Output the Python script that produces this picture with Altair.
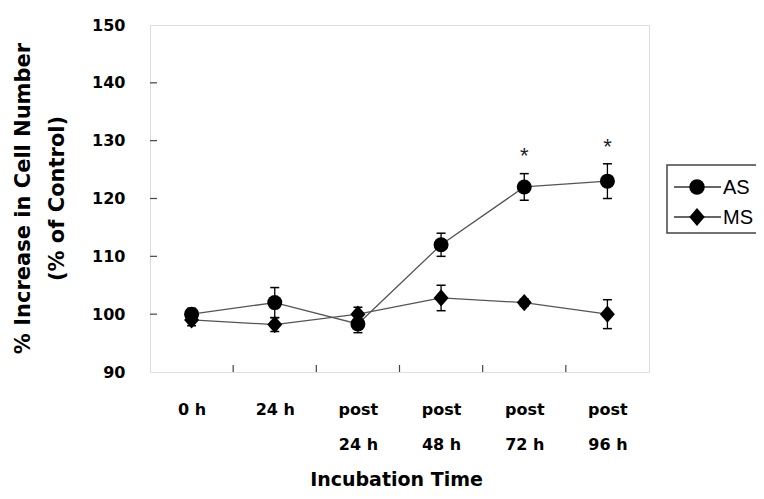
import json
import altair as alt
import pandas as pd

# ---- data ----
x_pos = [0, 1, 2, 3, 4, 5]
x_labels = ["0 h", "24 h", "post|24 h", "post|48 h", "post|72 h", "post|96 h"]
series_names = ["AS", "MS"]
as_mean = [100.0, 102.0, 98.3, 112.0, 122.0, 123.0]
as_err = [1.0, 2.6, 1.5, 2.0, 2.3, 3.0]
ms_mean = [99.0, 98.2, 100.0, 102.8, 102.0, 100.0]
ms_err = [1.0, 1.2, 1.2, 2.2, 0.6, 2.5]
star_x = [4, 5]
star_y = [128.6, 130.2]
y_tick_values = [90, 100, 110, 120, 130, 140, 150]
inner_y_ticks = [100, 110, 120, 130, 140]
inner_x_ticks = [0.5, 1.5, 2.5, 3.5, 4.5]

rows = []
for name, means, errs in [("AS", as_mean, as_err), ("MS", ms_mean, ms_err)]:
    for xi, m, e in zip(x_pos, means, errs):
        rows.append({"series": name, "x": xi, "mean": m, "lo": m - e, "hi": m + e})
df = pd.DataFrame(rows)
stars = pd.DataFrame({"x": star_x, "y": star_y, "t": ["*"] * len(star_x)})
yt = pd.DataFrame({"v": inner_y_ticks})
xt = pd.DataFrame({"v": inner_x_ticks})

W, H = 499, 347
BOLD = "DejaVu Sans"

xscale = alt.Scale(domain=[-0.5, 5.5], nice=False, zero=False)
yscale = alt.Scale(domain=[90, 150], nice=False, zero=False)

label_expr = "split(" + json.dumps(x_labels).replace('"', "'") + "[datum.value], '|')"

x_axis = alt.Axis(
    values=x_pos, labelExpr=label_expr, ticks=False, tickSize=0, domain=False, grid=False,
    labelFont=BOLD, labelFontWeight="bold", labelFontSize=16, labelColor="black",
    labelPadding=29, labelBaseline="top", labelLineHeight=35, labelAngle=0,
    title="Incubation Time", titleFont=BOLD, titleFontWeight="bold", titleFontSize=19,
    titleColor="black", titleX=246, titleY=107, titleBaseline="middle", titleAlign="center",
)
y_axis = alt.Axis(
    values=y_tick_values, ticks=False, tickSize=0, domain=False, grid=False,
    labelFont=BOLD, labelFontWeight="bold", labelFontSize=16, labelColor="black",
    labelPadding=25,
    title=["% Increase in Cell Number", "(% of Control)"], titleFont=BOLD,
    titleFontWeight="bold", titleFontSize=21, titleColor="black", titleLineHeight=34,
    titleX=-127, titleY=173, titleAngle=270, titleBaseline="middle", titleAlign="center",
)

base = alt.Chart(df)
X = alt.X("x:Q", scale=xscale, axis=x_axis)
Y = alt.Y("mean:Q", scale=yscale, axis=y_axis)

lines = base.mark_line(color="#555555", strokeWidth=1.3).encode(x=X, y=Y, detail="series:N")
bars = base.mark_rule(color="black", strokeWidth=1.3).encode(
    x="x:Q", y=alt.Y("lo:Q", scale=yscale), y2="hi:Q")
cap_lo = base.mark_tick(color="black", orient="horizontal", size=9, thickness=1.5, opacity=1).encode(
    x="x:Q", y=alt.Y("lo:Q", scale=yscale))
cap_hi = base.mark_tick(color="black", orient="horizontal", size=9, thickness=1.5, opacity=1).encode(
    x="x:Q", y=alt.Y("hi:Q", scale=yscale))

pt_shapes = ["circle", "M0,-1.15L1,0L0,1.15L-1,0Z"]
shape_scale = alt.Scale(domain=series_names, range=pt_shapes)
points = base.mark_point(filled=True, color="black", opacity=1, size=225).encode(
    x="x:Q", y="mean:Q",
    shape=alt.Shape("series:N", scale=shape_scale, legend=None),
)

star_layer = alt.Chart(stars).mark_text(fontSize=22, color="#222222", baseline="middle", dy=7).encode(
    x=alt.X("x:Q", scale=xscale), y=alt.Y("y:Q", scale=yscale), text="t:N")

ytick_layer = alt.Chart(yt).mark_rule(color="#444444", strokeWidth=1.2).encode(
    y=alt.Y("v:Q", scale=yscale), x=alt.value(0), x2=alt.value(7))
xtick_layer = alt.Chart(xt).mark_rule(color="#444444", strokeWidth=1.2).encode(
    x=alt.X("v:Q", scale=xscale), y=alt.value(H - 7), y2=alt.value(H))

# ---- legend, drawn to the right of the plot ----
leg_box = alt.Chart(pd.DataFrame({"k": [0]})).mark_rect(
    fill="white", stroke="#444444", strokeWidth=1.5
).encode(x=alt.value(517), x2=alt.value(625), y=alt.value(140), y2=alt.value(208))
leg_layers = [leg_box]
for i, name in enumerate(series_names):
    yy = 162 + 30 * i
    ldf = pd.DataFrame({"series": [name]})
    c = alt.Chart(ldf)
    leg_layers.append(c.mark_rule(color="#333333", strokeWidth=1.3).encode(
        x=alt.value(524), x2=alt.value(571), y=alt.value(yy)))
    leg_layers.append(c.mark_point(filled=True, color="black", opacity=1, size=240).encode(
        x=alt.value(547), y=alt.value(yy),
        shape=alt.Shape("series:N", scale=shape_scale, legend=None)))
    leg_layers.append(c.mark_text(font="Liberation Sans", fontSize=20, color="black",
                                  align="left", baseline="middle").encode(
        x=alt.value(573), y=alt.value(yy + 1), text="series:N"))

chart = alt.layer(
    lines, ytick_layer, xtick_layer, bars, cap_lo, cap_hi, points, star_layer, *leg_layers
).properties(
    width=W, height=H,
    autosize=alt.AutoSizeParams(type="none"),
    padding={"left": 142, "top": 17, "right": 107, "bottom": 119},
).configure_view(stroke="#3a3a3a", strokeWidth=1.6).configure(background="white")

chart.save("out.html", embed_options={"renderer": "svg", "actions": False})
